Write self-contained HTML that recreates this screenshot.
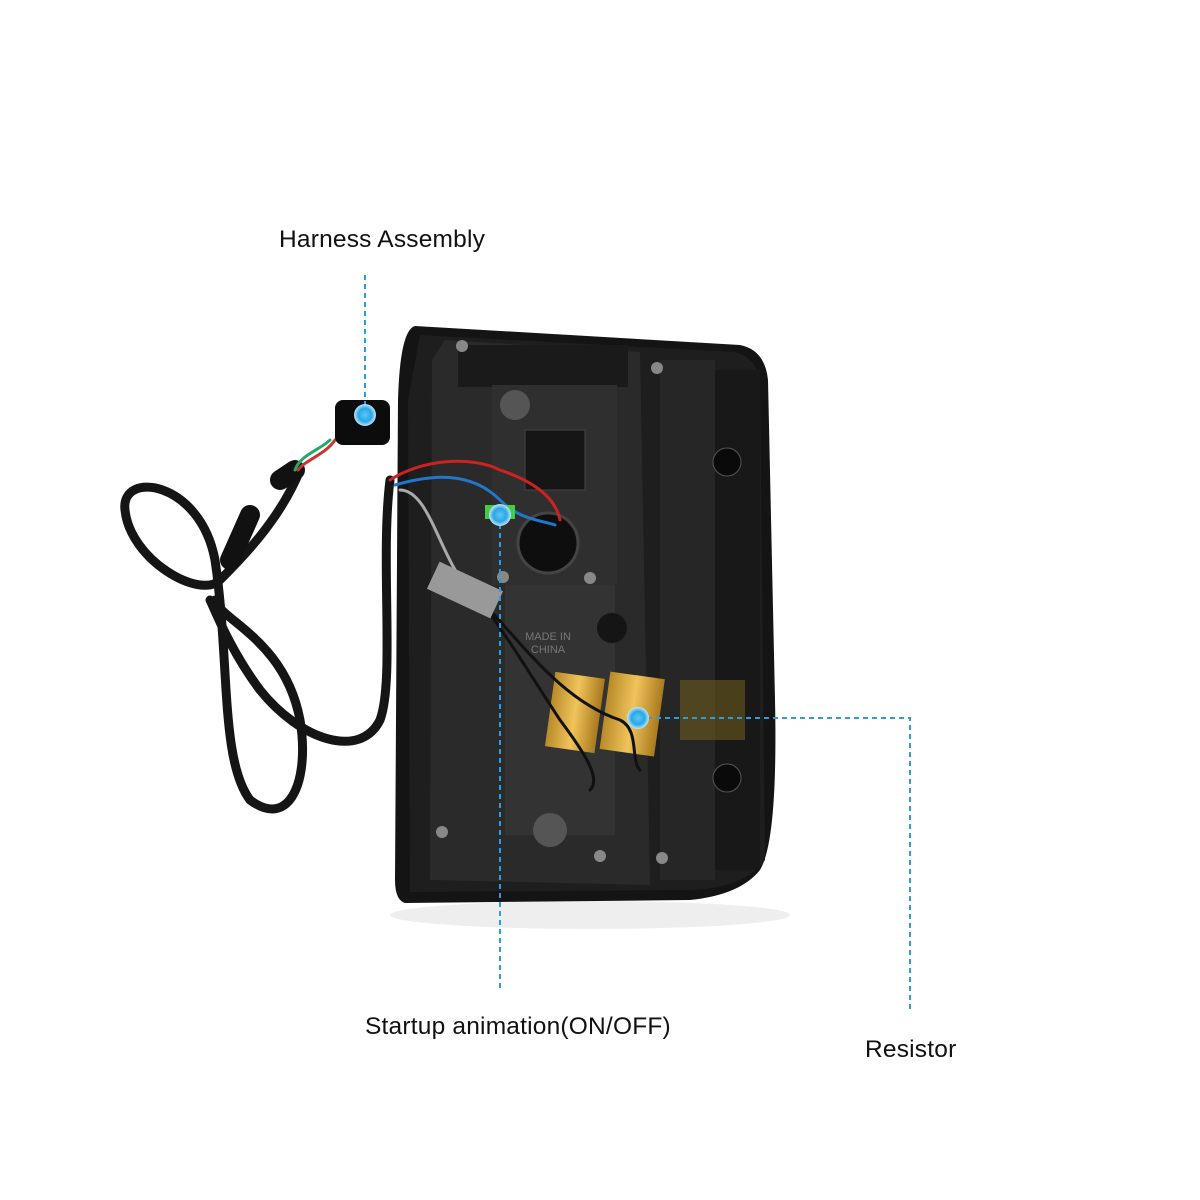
<!DOCTYPE html>
<html><head><meta charset="utf-8"><style>
html,body{margin:0;padding:0;background:#fff;}
.w{position:relative;width:1200px;height:1200px;overflow:hidden;}
.t{position:absolute;font-family:"Liberation Sans",sans-serif;font-size:24.5px;color:#111;white-space:nowrap;letter-spacing:0.2px;}
</style></head><body><div class="w">
<svg width="1200" height="1200" viewBox="0 0 1200 1200" style="position:absolute;left:0;top:0">
<defs>
<radialGradient id="dot"><stop offset="0" stop-color="#5ec8f5"/><stop offset="0.6" stop-color="#2aa7e6"/><stop offset="1" stop-color="#bfe6f7"/></radialGradient>
<linearGradient id="gold" x1="0" x2="1"><stop offset="0" stop-color="#b88a2a"/><stop offset="0.5" stop-color="#f0c45a"/><stop offset="1" stop-color="#a9791e"/></linearGradient>
</defs>
<ellipse cx="590" cy="915" rx="200" ry="14" fill="#eee"/>
<path d="M415 326 L740 345 Q765 350 768 380 L775 700 Q778 840 760 870 Q740 895 690 900 L405 903 Q395 900 395 880 L398 400 Q400 330 415 326 Z" fill="#141414"/>
<path d="M420 335 L735 352 Q758 358 760 385 L765 860 Q745 888 690 890 L410 892 L408 400 Z" fill="#1e1e1e"/>
<path d="M445 340 L640 352 L650 885 L430 880 L432 360 Z" fill="#2a2a2a"/>
<rect x="458" y="345" width="170" height="42" fill="#1a1a1a"/>
<rect x="492" y="385" width="125" height="200" fill="#2f2f2f"/>
<rect x="525" y="430" width="60" height="60" fill="#161616" stroke="#444"/>
<rect x="505" y="585" width="110" height="250" fill="#333"/>
<circle cx="515" cy="405" r="15" fill="#555"/>
<circle cx="550" cy="830" r="17" fill="#555"/>
<circle cx="612" cy="628" r="15" fill="#151515"/>
<circle cx="548" cy="543" r="30" fill="#0e0e0e" stroke="#444" stroke-width="3"/>
<text x="548" y="640" font-family="Liberation Sans" font-size="11" fill="#777" text-anchor="middle">MADE IN</text>
<text x="548" y="653" font-family="Liberation Sans" font-size="11" fill="#777" text-anchor="middle">CHINA</text>
<rect x="660" y="360" width="55" height="520" fill="#262626"/>
<rect x="715" y="370" width="45" height="500" fill="#181818"/>
<rect x="680" y="680" width="65" height="60" fill="#6b5a1e" opacity="0.6"/>
<circle cx="727" cy="462" r="14" fill="#0a0a0a" stroke="#555"/>
<circle cx="727" cy="778" r="14" fill="#0a0a0a" stroke="#555"/>
<g fill="#888"><circle cx="462" cy="346" r="6"/><circle cx="657" cy="368" r="6"/><circle cx="590" cy="578" r="6"/><circle cx="503" cy="577" r="6"/><circle cx="442" cy="832" r="6"/><circle cx="600" cy="856" r="6"/><circle cx="662" cy="858" r="6"/></g>
<rect x="550" y="675" width="50" height="75" fill="url(#gold)" transform="rotate(8 575 712)"/>
<rect x="605" y="675" width="55" height="78" fill="url(#gold)" transform="rotate(8 632 712)"/>
<g fill="none" stroke-linecap="round">
<path d="M300 470 C280 520 240 560 220 580 C200 600 130 560 125 510 C120 470 200 480 215 560 C230 660 220 760 250 800 C290 830 310 780 300 720 C285 640 220 620 215 600" stroke="#151515" stroke-width="9"/>
<path d="M390 480 C380 560 395 680 380 720 C360 760 300 740 260 690 C230 650 215 610 210 600" stroke="#151515" stroke-width="9"/>
<path d="M295 470 L280 480" stroke="#111" stroke-width="20"/>
<path d="M250 515 L230 560" stroke="#111" stroke-width="20"/>
<path d="M330 440 C320 450 300 455 295 470" stroke="#2a6" stroke-width="3"/>
<path d="M335 440 C325 455 305 460 298 470" stroke="#c33" stroke-width="3"/>
<path d="M390 480 C420 460 470 455 500 470 C530 480 555 495 560 520" stroke="#c22" stroke-width="3"/>
<path d="M395 485 C430 475 470 470 500 500 C520 520 540 520 555 525" stroke="#27c" stroke-width="3"/>
<path d="M400 490 C430 490 440 560 470 590" stroke="#aaa" stroke-width="3"/>
<path d="M480 600 C510 640 540 690 560 720 C590 760 600 780 590 790" stroke="#111" stroke-width="3"/>
<path d="M480 600 C520 640 560 700 620 720 C640 730 630 760 640 770" stroke="#111" stroke-width="3"/>
</g>
<rect x="335" y="400" width="55" height="45" rx="8" fill="#0c0c0c"/>
<rect x="430" y="575" width="70" height="30" fill="#999" transform="rotate(25 465 590)"/>
<rect x="485" y="505" width="30" height="14" fill="#4c4"/>
<g stroke="#2a9fe0" stroke-width="2" stroke-dasharray="5,4" fill="none">
<line x1="365" y1="275" x2="365" y2="410"/>
<line x1="500" y1="515" x2="500" y2="992"/>
<polyline points="638,718 910,718 910,1010"/>
</g>
<circle cx="365" cy="415" r="11" fill="url(#dot)"/>
<circle cx="500" cy="515" r="11" fill="url(#dot)"/>
<circle cx="638" cy="718" r="11" fill="url(#dot)"/>
</svg>
<div class="t" style="left:279px;top:226px">Harness Assembly</div>
<div class="t" style="left:365px;top:1013px">Startup animation(ON/OFF)</div>
<div class="t" style="left:865px;top:1036px">Resistor</div>
</div></body></html>
